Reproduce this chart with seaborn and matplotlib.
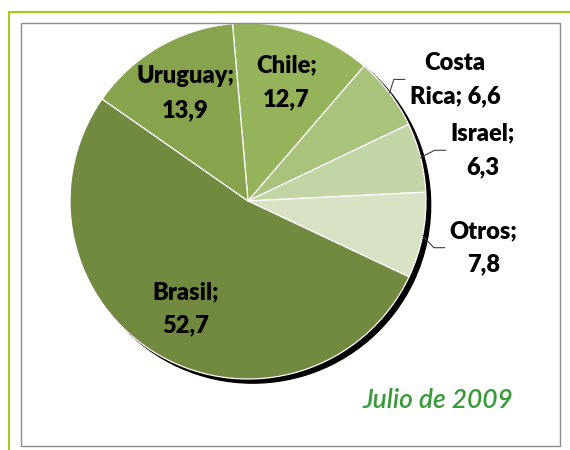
import matplotlib
matplotlib.use("Agg")
import matplotlib.pyplot as plt
import matplotlib.patches as mpatches
from matplotlib.lines import Line2D
import numpy as np
import seaborn as sns

# datos (julio de 2009), en el orden de las agujas del reloj desde arriba
paises = ["Chile", "Costa Rica", "Israel", "Otros", "Brasil", "Uruguay"]
valores = [12.7, 6.6, 6.3, 7.8, 52.7, 13.9]
colores = ["#95b35a", "#a9c37c", "#c3d4a6", "#d8e3c6", "#728a40", "#87a34e"]
subtitulo = "Julio de 2009"

sns.set_theme(style="white")
plt.rcParams['font.family'] = ['Lato', 'DejaVu Sans']

W, H = 570, 450
fig = plt.figure(figsize=(W / 100, H / 100), dpi=100)
fig.patch.set_facecolor("white")

# marcos
fig.add_artist(Line2D([9 / W, 1], [1 - 12 / H, 1 - 12 / H], transform=fig.transFigure,
                      color="#99cc00", lw=1.3))
fig.add_artist(Line2D([9 / W, 9 / W], [0, 1 - 12 / H], transform=fig.transFigure,
                      color="#99cc00", lw=1.3))
fig.add_artist(mpatches.Rectangle((21 / W, 4 / H), (560 - 21) / W, (446 - 23) / H,
                                  transform=fig.transFigure, fill=False,
                                  edgecolor="#8c8c8c", lw=1))

# pie: centro (248, 201) px, radio 178 px
ax = fig.add_axes([(248 - 178) / W, (H - 201 - 178) / H, 356 / W, 356 / H])
wedges, _ = ax.pie(valores, colors=sns.color_palette(colores), startangle=95,
                   counterclock=False, radius=1,
                   wedgeprops=dict(edgecolor="white", linewidth=0.9),
                   shadow={'ox': 0.019, 'oy': -0.017, 'shade': 1.0, 'alpha': 1.0})
ax.set_xlim(-1, 1)
ax.set_ylim(-1, 1)
ax.set_aspect("equal")
ax.axis("off")


def etiqueta(nombre, v):
    num = f"{v:.1f}".replace(".", ",")
    if " " in nombre:
        a, b = nombre.split(" ", 1)
        return f"{a}\n{b}; {num}"
    return f"{nombre};\n{num}"


# ajustes de posición de las etiquetas exteriores (grados)
ajuste_ang = {"Costa Rica": -7, "Israel": -2, "Otros": 0}

textos = []
for w, nombre, v in zip(wedges, paises, valores):
    mid = np.deg2rad((w.theta1 + w.theta2) / 2)
    fuera = v < 10
    if fuera:
        ang = mid + np.deg2rad(ajuste_ang.get(nombre, 0))
        r = 1.35
    else:
        ang = mid
        r = 0.70
    t = ax.text(r * np.cos(ang), r * np.sin(ang), etiqueta(nombre, v),
                ha="center", va="center", multialignment="center",
                fontsize=17, fontweight="heavy", color="black",
                linespacing=1.65)
    textos.append((t, mid, fuera))

fig.canvas.draw()
inv = ax.transData.inverted()
for t, mid, fuera in textos:
    if not fuera:
        continue
    bb = t.get_window_extent().transformed(inv)
    y = (bb.y0 + bb.y1) / 2
    fin = bb.x0 - 0.028
    codo = fin - 0.062
    ax.plot([np.cos(mid), codo, fin], [np.sin(mid), y, y], color="#404040",
            lw=0.8, clip_on=False, solid_joinstyle="miter")

fig.text(438 / W, 1 - 400 / H, subtitulo, ha="center", va="center",
         fontsize=19, fontstyle="italic", fontweight="semibold", color="#3a9a3a")

fig.savefig("out.png", dpi=100)
